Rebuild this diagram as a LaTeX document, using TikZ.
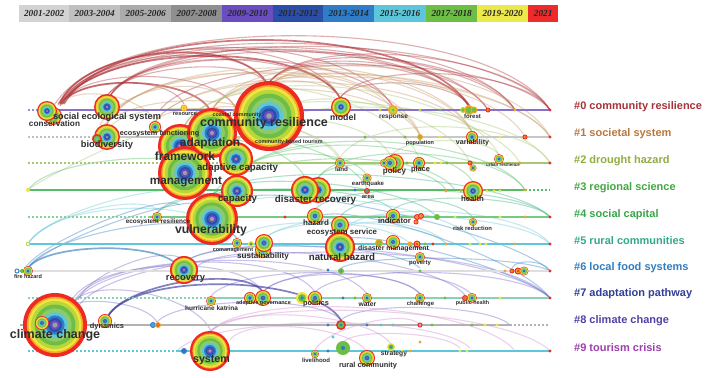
\documentclass[tikz,border=0pt]{standalone}
\usepackage{fontspec}
\setmainfont{Liberation Sans}
\newfontfamily\legfont{Liberation Serif}
\usetikzlibrary{calc}
% legend colours
\definecolor{y1}{HTML}{D3D3D3}\definecolor{y2}{HTML}{C0C0C0}\definecolor{y3}{HTML}{ABABAB}
\definecolor{y4}{HTML}{8F8F8F}\definecolor{y5}{HTML}{6A4DC0}\definecolor{y6}{HTML}{2B4EA8}
\definecolor{y7}{HTML}{2F7CC9}\definecolor{y8}{HTML}{5EC6DB}\definecolor{y9}{HTML}{6CBE45}
\definecolor{y10}{HTML}{EDE84C}\definecolor{y11}{HTML}{EE2B2B}
% ring colours
\definecolor{cR}{HTML}{EE2A24}\definecolor{cO}{HTML}{F5A623}\definecolor{cY}{HTML}{F0E442}
\definecolor{cYG}{HTML}{B9D63A}\definecolor{cG}{HTML}{6DBE45}\definecolor{cLG}{HTML}{8DCB6A}
\definecolor{cC}{HTML}{5EC6DB}\definecolor{cB}{HTML}{2F7CC9}\definecolor{cDB}{HTML}{2B4EA8}
\definecolor{cP}{HTML}{6A4DC0}\definecolor{cGr}{HTML}{9E9E9E}
% cluster label colours
\definecolor{k0}{HTML}{A8323A}\definecolor{k1}{HTML}{B9783F}\definecolor{k2}{HTML}{91AD43}
\definecolor{k3}{HTML}{43A843}\definecolor{k4}{HTML}{3AA64B}\definecolor{k5}{HTML}{35A88C}
\definecolor{k6}{HTML}{2F7FC1}\definecolor{k7}{HTML}{323F98}\definecolor{k8}{HTML}{4F43A6}
\definecolor{k9}{HTML}{9D3FAC}
% arc colours
\definecolor{q0}{HTML}{B0353A}\definecolor{q1}{HTML}{C99A68}\definecolor{q2}{HTML}{A6C874}
\definecolor{q3}{HTML}{55BD68}\definecolor{q4}{HTML}{3DB385}\definecolor{q5}{HTML}{6CCAD9}
\definecolor{q6}{HTML}{3A80C0}\definecolor{q7}{HTML}{7A68C8}\definecolor{q8}{HTML}{3C3CA0}
\definecolor{q9}{HTML}{D08CD0}
\definecolor{lbl}{HTML}{2E2E2E}
\newcommand\kw[4]{\foreach \f/\kcol in {1/cR,.88/cO,.83/cY,.75/cYG,.64/cG,.52/cLG,.4/cC,.3/cB,.22/cDB,.15/cP,.08/cGr}{\fill[\kcol] (#2,#3) circle[radius=\f*#4];}\coordinate (#1) at (#2,#3);}
\newcommand\sk[7]{\fill[#5] (#2,#3) circle[radius=#4];\fill[#6] (#2,#3) circle[radius=.65*#4];\fill[#7] (#2,#3) circle[radius=.3*#4];\coordinate (#1) at (#2,#3);}
\newcommand\dt[3]{\fill[#3] (#1,#2) circle[radius=1.6];}
\newcommand\arcset[2]{\foreach \xa/\ya/\xb/\yb/\h in {#2}{\coordinate (s) at (\xa,\ya);\coordinate (e) at (\xb,\yb);\draw[#1] (s) .. controls ($(s)!0.12!(e)+(0,-\h)$) and ($(s)!0.88!(e)+(0,-\h)$) .. (e);}}
\tikzset{
  kwl/.style={font=\bfseries\fontsize{#1}{#1}\selectfont, text=lbl, inner sep=0pt},
  cl/.style={font=\bfseries\fontsize{11}{11}\selectfont, anchor=west, inner sep=0pt},
  leg/.style={font=\legfont\bfseries\itshape\fontsize{9.3}{9.3}\selectfont, text=black!85, minimum height=17pt, inner sep=0pt, anchor=west},
  ar/.style={draw=#1, line width=1.1pt, opacity=.4},
  ars/.style={draw=#1, line width=1.7pt, opacity=.65},
  rl/.style={draw=#1, line width=1.4pt},
  rd/.style={draw=#1, line width=1.2pt, dash pattern=on 2pt off 2pt},
}
\begin{document}
\begin{tikzpicture}[x=1pt,y=-1pt]
\useasboundingbox (0,0) rectangle (711,377);
\fill[white] (0,0) rectangle (711,377);
% legend
\node[leg, fill=y1, minimum width=50pt] (g1) at (19,13.5) {2001-2002};
\node[leg, fill=y2, minimum width=51pt] (g2) at (69,13.5) {2003-2004};
\node[leg, fill=y3, minimum width=51pt] (g3) at (120,13.5) {2005-2006};
\node[leg, fill=y4, minimum width=51pt] (g4) at (171,13.5) {2007-2008};
\node[leg, fill=y5, minimum width=51pt] (g5) at (222,13.5) {2009-2010};
\node[leg, fill=y6, minimum width=50pt] (g6) at (273,13.5) {2011-2012};
\node[leg, fill=y7, minimum width=51pt] (g7) at (323,13.5) {2013-2014};
\node[leg, fill=y8, minimum width=52pt] (g8) at (374,13.5) {2015-2016};
\node[leg, fill=y9, minimum width=51pt] (g9) at (426,13.5) {2017-2018};
\node[leg, fill=y10, minimum width=51pt] (g10) at (477,13.5) {2019-2020};
\node[leg, fill=y11, minimum width=30pt] (g11) at (528,13.5) {2021};
% arcs
\arcset{ar=q0}{55/104/550/110/95, 58/104/515/110/85, 60/104/488/110/80, 60/104/470/108/75, 58/105/340/98/70, 60/104/268/84/50, 60/105/236/108/40, 60/106/184/104/30, 110/96/470/108/70, 110/96/550/110/75, 110/96/393/106/55, 110/96/340/98/50, 268/84/550/110/55, 268/84/488/110/45, 268/84/470/106/40, 340/98/550/110/40, 340/98/470/106/25, 107/96/268/84/30, 107/96/515/110/68, 268/84/515/110/50, 62/104/393/108/78, 160/110/550/110/60}
\arcset{ars=q0}{62/104/210/110/32, 60/103/268/86/55, 62/104/340/98/60, 64/104/470/108/88}
\arcset{ar=q1}{107/124/420/135/75, 107/124/472/132/80, 155/122/550/137/70, 212/110/525/137/65, 212/110/550/137/75, 268/90/420/135/45, 268/90/472/132/50, 97/134/289/135/45, 155/122/289/134/25, 185/125/420/136/55, 107/124/236/110/40, 212/110/340/98/30, 60/106/155/122/25, 100/125/393/110/60, 155/122/472/132/60, 240/100/550/137/55, 185/125/289/134/30}
\arcset{ar=q2}{236/143/391/157/40, 185/125/499/155/70, 340/158/550/163/45, 212/110/419/158/55, 28/190/153/131/6, 236/143/550/163/60, 270/120/470/163/50, 391/156/499/155/20, 185/140/340/158/35, 107/130/340/160/45, 200/140/520/163/65}
\arcset{ar=q3}{237/176/473/182/45, 318/178/525/190/40, 212/195/455/190/45, 318/178/446/190/25, 236/176/367/176/30, 185/150/305/178/30, 237/176/525/190/55, 28/190/237/180/35, 212/150/367/188/35}
\arcset{ar=q4}{212/195/550/217/40, 157/213/393/210/30, 315/209/550/217/30, 157/213/237/200/15, 340/217/473/218/25, 393/210/550/217/20, 212/195/437/217/30}
\arcset{ar=q5}{28/244/210/198/30, 28/244/160/212/25, 28/244/237/240/45, 264/239/550/244/35, 340/232/550/244/35, 264/239/446/244/25, 237/239/410/244/25, 340/232/446/244/20, 212/215/480/244/40}
\arcset{ar=q6}{28/268/205/205/20, 25/268/180/205/20, 28/268/237/238/35, 315/218/550/298/30, 340/240/550/298/20, 512/268/550/271/10, 341/268/550/271/15, 185/262/420/268/25, 237/200/550/271/30}
\arcset{ars=q6}{28/268/178/266/25}
\arcset{ar=q7}{72/300/263/292/40, 75/300/315/292/45, 75/302/367/294/50, 80/304/550/298/65, 185/262/550/298/40, 211/296/420/294/30, 263/292/420/294/25, 263/292/472/295/30, 315/292/550/298/30, 195/268/465/295/35, 60/312/157/322/20, 70/306/211/331/35, 157/322/341/320/25, 341/320/510/325/20, 78/300/185/262/25}
\arcset{ars=q8}{108/316/341/320/45, 108/316/263/292/30}
\arcset{ar=q9}{210/332/391/344/30, 210/332/550/351/40, 178/350/470/348/35, 343/342/460/348/15, 315/350/420/325/20, 230/340/367/352/25, 210/332/515/351/45}
% timelines
\draw[rd=k8!60] (28,110) -- (42,110); \draw[rl=y5!80, line width=1.2pt] (42,110) -- (550,110);
\draw[rd=black!25] (28,137) -- (95,137); \draw[rl=black!22, line width=1.2pt] (95,137) -- (550,137);
\draw[rd=q2] (28,163) -- (230,163); \draw[rl=q2] (230,163) -- (550,163);
\draw[rl=q3] (28,190) -- (525,190); \draw[rd=q3] (525,190) -- (550,190);
\draw[rd=q3!70] (28,217) -- (150,217); \draw[rl=q3!80] (150,217) -- (550,217);
\draw[rl=cC] (28,244) -- (550,244);
\draw[rl=black!13, line width=1.8pt] (15,271) -- (550,271);
\draw[rd=q4!60] (28,298) -- (210,298); \draw[rl=q4!60, line width=2pt] (210,298) -- (550,298);
\draw[rl=black!30, line width=1.2pt] (20,325) -- (510,325); \draw[rd=black!30] (510,325) -- (550,325);
\draw[rd=cC] (28,351) -- (178,351); \draw[rl=cC] (178,351) -- (550,351);
% row 0
\kw{cons2}{53}{116}{9}\kw{cons}{47}{111}{10}
\kw{ses}{107}{107}{13}
\sk{res}{184}{108}{3.5}{cO}{cY}{cO}
\sk{coast}{236}{111}{3}{cO}{cG}{cB}
\dt{420}{110}{cYG}\dt{440}{110}{cG}\dt{515}{110}{cO}\dt{550}{110}{cR}\dt{380}{110}{cYG}
\sk{r0a}{488}{110}{2.5}{cR}{cO}{cR}
\kw{model}{341}{107}{10}
\sk{resp}{393}{110}{5}{cO}{cYG}{cG}
\sk{for1}{463}{110}{3}{cYG}{cG}{cG}\sk{for2}{469}{110}{5}{cO}{cG}{cG}\sk{for3}{474}{110}{3.5}{cO}{cG}{cG}
% row 1
\kw{bio}{107}{137}{13}\sk{bio2}{97}{139}{5}{cR}{cG}{cC}
\kw{eco}{155}{127}{6}
\draw[cR, line width=1pt] (172,137) circle[radius=2.5];
\sk{cbt}{290}{137}{3}{cO}{cG}{cO}
\sk{pop}{420}{137}{3}{cO}{cG}{cO}
\kw{var}{472}{137}{6}
\sk{r1a}{525}{137}{2.5}{cR}{cO}{cR}
\dt{365}{137}{cG}\dt{405}{137}{cG}\dt{440}{137}{cY}\dt{500}{137}{cY}\dt{550}{137}{cR}
% row 2 etc big
\kw{fw}{180}{146}{22}
\kw{mg}{185}{173}{27}
\kw{vul}{212}{219}{26}
\kw{ad}{212}{133}{25}
\kw{cr}{269}{116}{35}
\kw{ac}{236}{159}{17}
\kw{cap}{237}{191}{16}
\kw{land}{340}{163}{5}
\kw{pol3}{395}{163}{9}\kw{pol2}{390}{163}{7}\kw{pol1}{384}{163}{4}
\kw{place}{419}{163}{6}
\dt{435}{163}{cY}\dt{441}{163}{cY}\dt{447}{163}{cG}\dt{407}{163}{cG}\dt{550}{163}{cR}\dt{520}{163}{cO}
\sk{r2a}{470}{163}{2.5}{cR}{cO}{cR}
\kw{ur}{499}{159}{5}\kw{r2b}{473}{168}{3.5}
% row 3
\sk{r3l}{28}{190}{2}{cY}{cY}{cY}
\kw{dr2}{318}{190}{13}\kw{dr1}{305}{190}{14}
\kw{eq}{367}{178}{4.5}
\sk{area}{367}{191}{3}{cR}{cG}{cB}
\kw{health}{473}{191}{10}
\dt{355}{190}{cB}\dt{360}{190}{cG}\dt{446}{191}{cO}\dt{461}{191}{cO}\dt{487}{191}{cY}\dt{494}{191}{cY}\dt{500}{191}{cY}\dt{525}{190}{cO}
% row 4
\kw{er}{157}{217}{5}
\kw{hz}{315}{216}{8}
\kw{ind}{393}{216}{7}
\sk{i2}{417}{217}{3}{cR}{cY}{cR}\sk{i3}{421}{216}{3}{cR}{cY}{cR}\sk{i4}{416}{222}{2.5}{cR}{cY}{cR}
\sk{g4}{437}{217}{3}{cG}{cG}{cG}
\kw{rr}{473}{222}{4}
\kw{es}{340}{225}{9}
\dt{285}{217}{cR}\dt{455}{217}{cY}\dt{500}{217}{cY}\dt{525}{217}{cO}\dt{550}{217}{cR}
% row 5
\sk{r5l}{28}{244}{2.2}{cYG}{white}{white}
\kw{com}{237}{243}{5}\sk{com2}{251}{244}{3}{cY}{cG}{cB}
\kw{sus2}{263}{250}{8}\kw{sus}{264}{243}{9}
\kw{nh}{340}{247}{15}
\sk{dm1}{379}{243}{4}{cO}{cG}{cO}\kw{dm2}{393}{242}{7}\sk{dm3}{410}{244}{2.5}{cO}{cO}{cO}\sk{dm4}{417}{244}{3.5}{cR}{cO}{cR}
\kw{pov}{420}{257}{5}
\dt{425}{244}{cG}\dt{433}{244}{cR}\dt{446}{244}{cO}\dt{470}{244}{cY}\dt{480}{244}{cY}\dt{486}{244}{cY}\dt{515}{244}{cO}\dt{550}{244}{cR}
% row 6
\sk{fh1}{17}{271}{2.5}{cB}{white}{white}\sk{fh0}{22}{271}{2}{cG}{cG}{cG}\kw{fh2}{28}{271}{5}
\kw{rec}{184}{270}{14}
\dt{328}{270}{cB}\sk{g6}{341}{271}{3}{cG}{cG}{cB}\dt{420}{271}{cG}\dt{505}{271}{cO}\dt{550}{271}{cR}
\sk{r6a}{512}{271}{2.5}{cR}{cO}{cR}\sk{r6b}{518}{271}{3.5}{cR}{cO}{cR}\kw{r6c}{524}{271}{4.5}
% row 7
\kw{hk}{211}{301}{5}
\kw{ag1}{250}{298}{6}\kw{ag2}{263}{298}{8}
\sk{po1}{302}{298}{6}{cY}{cG}{cB}\kw{po2}{315}{298}{7}
\kw{water}{367}{298}{5}
\kw{chal}{420}{298}{5}
\sk{ph1}{465}{298}{3}{cR}{cO}{cR}\kw{ph2}{472}{298}{5}
\dt{343}{298}{cB}\dt{355}{298}{cG}\dt{445}{298}{cG}\dt{500}{298}{cY}\dt{550}{298}{cR}
% row 8
\kw{cc}{55}{325}{32}\kw{cc2}{42}{323}{7}
\kw{dyn}{105}{321}{7}
\sk{d2}{153}{325}{3}{cB}{cC}{cB}\sk{d3}{158}{325}{3}{cO}{cR}{cO}
\sk{c8a}{341}{325}{5}{cR}{cG}{cB}
\dt{328}{325}{cB}\dt{367}{325}{cB}\dt{381}{325}{cC}\dt{393}{325}{cC}\dt{432}{325}{cG}\dt{472}{325}{cG}\dt{485}{325}{cY}\dt{497}{325}{cY}
\draw[cR, line width=1pt] (420,325) circle[radius=2];
% row 9
\sk{s9a}{184}{351}{3}{cB}{cB}{cP}
\kw{sys}{210}{351}{20}
\kw{live}{315}{354}{4}
\sk{g9}{343}{348}{7}{cG}{cG}{cB}
\kw{rc}{367}{358}{8}
\sk{strat}{391}{347}{4}{cY}{cG}{cB}
\dt{402}{351}{cY}\dt{410}{351}{cO}\dt{460}{351}{cY}\dt{467}{351}{cY}\dt{550}{351}{cR}\dt{328}{351}{cB}\dt{333}{337}{cC}\dt{420}{342}{cO}
% keyword labels
\node[kwl=9.2] (t1) at (107,117) {social ecological system};
\node[kwl=8.2] (t2) at (54.5,124) {conservation};
\node[kwl=5.7] (t3) at (185,114) {resource};
\node[kwl=5.4] (t4) at (237,115) {coastal community};
\node[kwl=12.5] (t5) at (264,123) {community resilience};
\node[kwl=8.8] (t6) at (343,117) {model};
\node[kwl=6.5] (t7) at (393.5,117) {response};
\node[kwl=6] (t8) at (472.5,116) {forest};
\node[kwl=7.3] (t9) at (159.5,134) {ecosystem functioning};
\node[kwl=9.3] (t10) at (107,145) {biodiversity};
\node[kwl=5.4] (t11) at (289,142) {community-based tourism};
\node[kwl=5.5] (t12) at (420,143) {population};
\node[kwl=7.1] (t13) at (472.5,143) {variability};
\node[kwl=11.9] (t14) at (210,143) {adaptation};
\node[kwl=11.9] (t15) at (185,156) {framework};
\node[kwl=9.7] (t16) at (237.5,168) {adaptive capacity};
\node[kwl=11.7] (t17) at (186,182) {management};
\node[kwl=9.7] (t18) at (237.5,199) {capacity};
\node[kwl=12.2] (t19) at (211,230) {vulnerability};
\node[kwl=6.3] (t20) at (341.5,169) {land};
\node[kwl=8] (t21) at (394.5,171) {policy};
\node[kwl=7.4] (t22) at (420.5,170) {place};
\node[kwl=4.4] (t23) at (503,165) {urban resilience};
\node[kwl=6] (t24) at (368,184) {earthquake};
\node[kwl=6] (t25) at (368,197) {area};
\node[kwl=9.8] (t26) at (315.5,200) {disaster recovery};
\node[kwl=7.8] (t27) at (472.5,199) {health};
\node[kwl=8] (t28) at (316,223) {hazard};
\node[kwl=7.8] (t29) at (394.5,221) {indicator};
\node[kwl=7.9] (t30) at (342,232) {ecosystem service};
\node[kwl=5.9] (t31) at (472.5,228) {risk reduction};
\node[kwl=6.4] (t32) at (158,221.5) {ecosystem resilience};
\node[kwl=5.5] (t33) at (233,250) {comanagement};
\node[kwl=8.1] (t34) at (263,256) {sustainability};
\node[kwl=9.7] (t35) at (342,257) {natural hazard};
\node[kwl=6.9] (t36) at (393.5,249) {disaster management};
\node[kwl=6] (t37) at (420,263) {poverty};
\node[kwl=5.5] (t38) at (28,277) {fire hazard};
\node[kwl=9.4] (t39) at (185.5,279) {recovery};
\node[kwl=6.5] (t40) at (211.5,308) {hurricane katrina};
\node[kwl=5.5] (t41) at (263.5,303) {adaptive governance};
\node[kwl=7.4] (t42) at (316,304) {politics};
\node[kwl=6.8] (t43) at (367.5,304) {water};
\node[kwl=5.9] (t44) at (420.5,304) {challenge};
\node[kwl=5.4] (t45) at (472.5,303) {public health};
\node[kwl=7.4] (t46) at (107,327) {dynamics};
\node[kwl=12.5] (t47) at (55,335) {climate change};
\node[kwl=10.7] (t48) at (211.5,360) {system};
\node[kwl=6] (t49) at (316,360) {livelihood};
\node[kwl=7.4] (t50) at (368,366) {rural community};
\node[kwl=6.7] (t51) at (394,354) {strategy};
% cluster labels
\node[cl, text=k0] (c0) at (574,107) {\#0 community resilience};
\node[cl, text=k1] (c1) at (574,134) {\#1 societal system};
\node[cl, text=k2] (c2) at (574,161) {\#2 drought hazard};
\node[cl, text=k3] (c3) at (574,188) {\#3 regional science};
\node[cl, text=k4] (c4) at (574,215) {\#4 social capital};
\node[cl, text=k5] (c5) at (574,241) {\#5 rural communities};
\node[cl, text=k6] (c6) at (574,268) {\#6 local food systems};
\node[cl, text=k7] (c7) at (574,294) {\#7 adaptation pathway};
\node[cl, text=k8] (c8) at (574,321) {\#8 climate change};
\node[cl, text=k9] (c9) at (574,348) {\#9 tourism crisis};
\end{tikzpicture}
\end{document}
